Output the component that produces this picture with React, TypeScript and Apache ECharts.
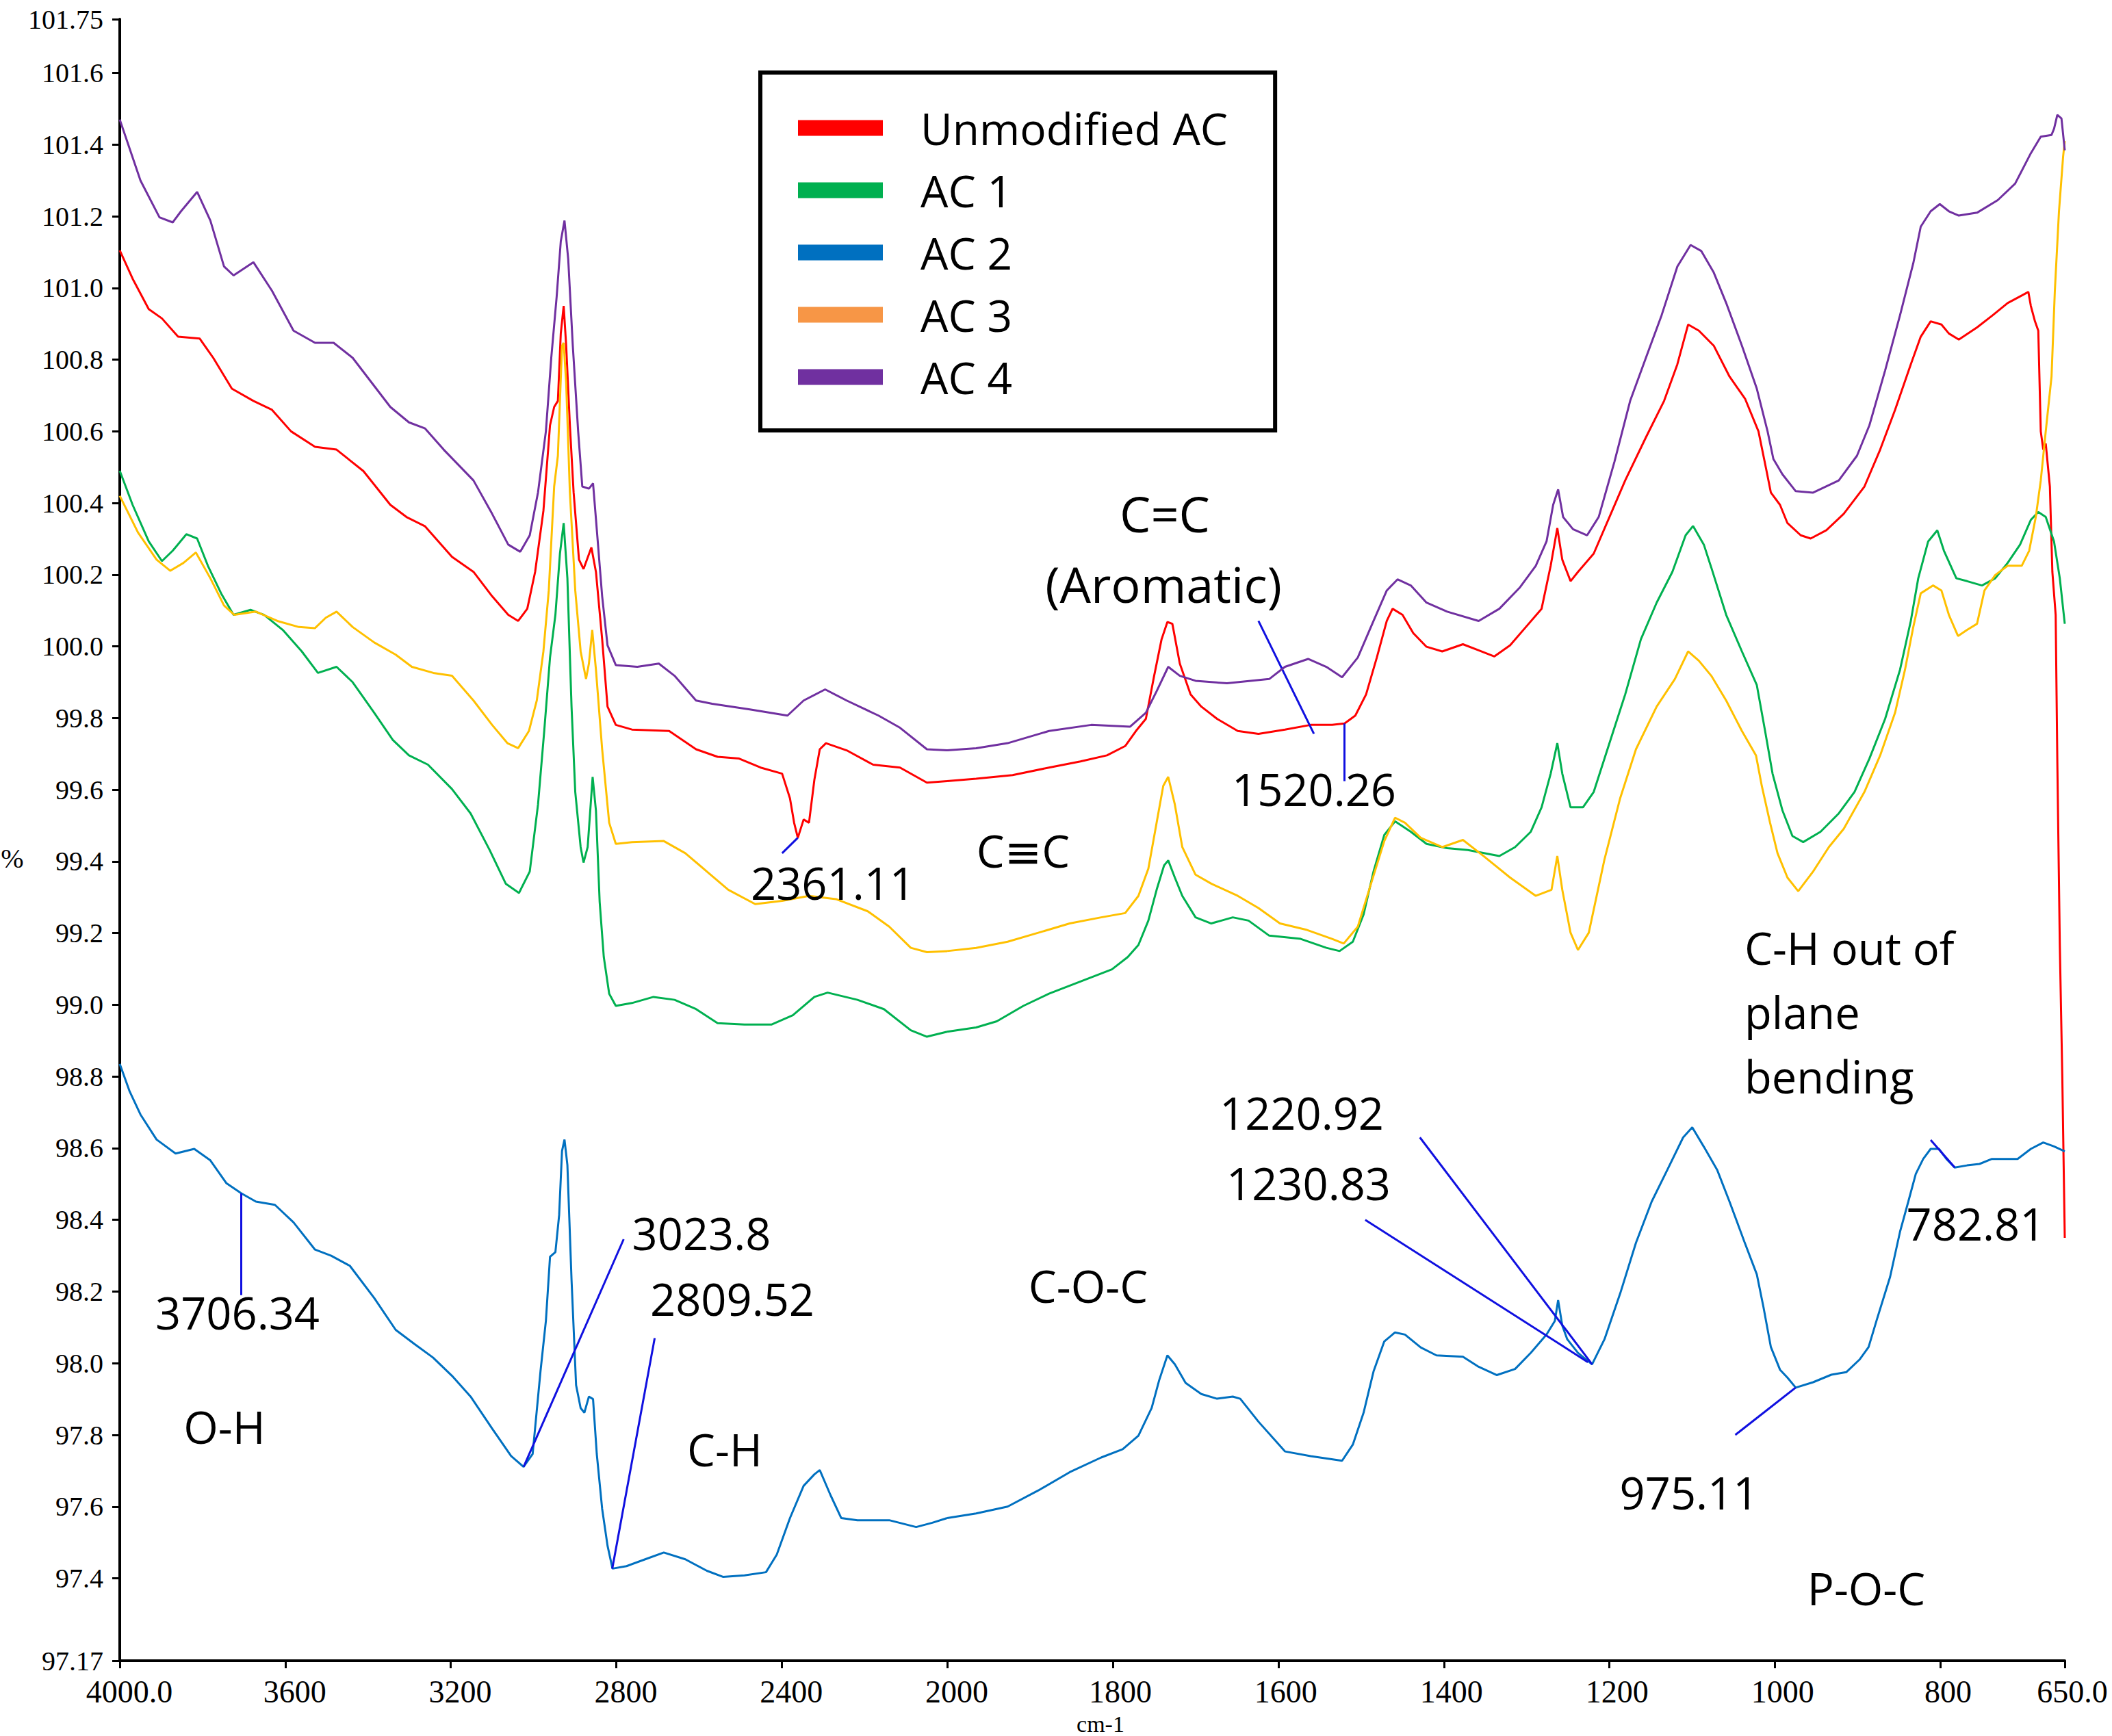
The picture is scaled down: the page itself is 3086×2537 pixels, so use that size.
import React, { useEffect, useRef } from 'react';
import * as echarts from 'echarts';

// ---------- DATA (wavenumber cm-1, transmittance %) ----------
const seriesNames = ['Unmodified AC', 'AC 1', 'AC 2', 'AC 3', 'AC 4'];

const unmodifiedAC: [number, number][] = [
  [4000, 101.105], [3969, 101.026], [3930, 100.941], [3898, 100.915], [3859, 100.864], [3807, 100.859],
  [3774, 100.805], [3729, 100.719], [3677, 100.685], [3632, 100.66], [3586, 100.6], [3528, 100.557],
  [3476, 100.549], [3411, 100.489], [3346, 100.395], [3307, 100.361], [3262, 100.335], [3197, 100.25],
  [3145, 100.208], [3100, 100.14], [3061, 100.088], [3037, 100.071], [3015, 100.105], [2996, 100.208],
  [2976, 100.378], [2960, 100.617], [2950, 100.668], [2941, 100.685], [2934, 100.873], [2927, 100.95],
  [2921, 100.84], [2912, 100.617], [2903, 100.43], [2890, 100.242], [2879, 100.216], [2860, 100.276],
  [2849, 100.208], [2834, 100.02], [2821, 99.832], [2801, 99.781], [2762, 99.768], [2672, 99.764],
  [2607, 99.713], [2555, 99.692], [2503, 99.687], [2451, 99.662], [2399, 99.645], [2380, 99.576],
  [2370, 99.508], [2361, 99.466], [2347, 99.517], [2334, 99.508], [2321, 99.628], [2308, 99.713],
  [2293, 99.73], [2243, 99.71], [2179, 99.67], [2114, 99.662], [2049, 99.62], [2000, 99.624],
  [1965, 99.631], [1921, 99.641], [1877, 99.662], [1839, 99.679], [1807, 99.696], [1785, 99.722],
  [1772, 99.764], [1760, 99.798], [1750, 99.918], [1741, 100.02], [1734, 100.068], [1728, 100.063],
  [1719, 99.952], [1706, 99.866], [1693, 99.832], [1674, 99.798], [1649, 99.764], [1624, 99.756],
  [1592, 99.768], [1561, 99.781], [1535, 99.781], [1520, 99.785], [1507, 99.807], [1494, 99.866],
  [1481, 99.969], [1469, 100.071], [1462, 100.105], [1450, 100.088], [1437, 100.037], [1421, 99.999],
  [1402, 99.986], [1377, 100.006], [1358, 99.989], [1339, 99.972], [1320, 100.003], [1301, 100.054],
  [1282, 100.105], [1271, 100.225], [1263, 100.33], [1257, 100.242], [1247, 100.182], [1238, 100.208],
  [1219, 100.259], [1200, 100.361], [1181, 100.463], [1156, 100.583], [1134, 100.685], [1118, 100.787],
  [1105, 100.898], [1092, 100.881], [1074, 100.839], [1055, 100.753], [1036, 100.69], [1020, 100.6],
  [1011, 100.498], [1005, 100.429], [994, 100.395], [985, 100.344], [969, 100.31], [957, 100.301],
  [938, 100.324], [917, 100.37], [892, 100.446], [873, 100.549], [855, 100.66], [836, 100.787],
  [824, 100.864], [812, 100.907], [799, 100.898], [790, 100.873], [778, 100.856], [756, 100.89],
  [737, 100.924], [719, 100.958], [702, 100.979], [694, 100.989], [691, 100.95], [686, 100.907],
  [682, 100.881], [679, 100.6], [676, 100.549], [673, 100.566], [668, 100.446], [665, 100.208],
  [661, 100.088], [659, 99.679], [656, 99.167], [653, 98.8], [650, 98.35],
];

const ac1: [number, number][] = [
  [4000, 100.49], [3969, 100.395], [3930, 100.293], [3898, 100.238], [3872, 100.267], [3839, 100.313],
  [3813, 100.301], [3787, 100.225], [3755, 100.148], [3725, 100.088], [3684, 100.102], [3651, 100.088],
  [3606, 100.046], [3560, 99.986], [3521, 99.926], [3476, 99.943], [3437, 99.9], [3385, 99.815],
  [3340, 99.739], [3301, 99.696], [3255, 99.67], [3197, 99.602], [3152, 99.534], [3106, 99.432],
  [3067, 99.338], [3035, 99.312], [3009, 99.372], [2989, 99.559], [2974, 99.764], [2960, 99.969],
  [2947, 100.088], [2936, 100.259], [2927, 100.344], [2918, 100.19], [2908, 99.832], [2899, 99.594],
  [2886, 99.44], [2879, 99.397], [2869, 99.44], [2857, 99.636], [2849, 99.542], [2840, 99.287],
  [2830, 99.133], [2817, 99.031], [2801, 98.997], [2762, 99.005], [2710, 99.022], [2659, 99.014],
  [2607, 98.988], [2555, 98.949], [2490, 98.945], [2425, 98.945], [2373, 98.971], [2321, 99.022],
  [2289, 99.034], [2217, 99.014], [2153, 98.988], [2088, 98.929], [2049, 98.911], [2000, 98.925],
  [1965, 98.937], [1940, 98.954], [1908, 98.997], [1877, 99.031], [1839, 99.065], [1801, 99.099],
  [1782, 99.133], [1769, 99.167], [1757, 99.235], [1747, 99.321], [1738, 99.389], [1733, 99.403],
  [1725, 99.355], [1716, 99.304], [1700, 99.244], [1681, 99.227], [1655, 99.244], [1636, 99.235],
  [1611, 99.193], [1573, 99.184], [1542, 99.159], [1526, 99.15], [1510, 99.176], [1497, 99.252],
  [1485, 99.372], [1472, 99.474], [1459, 99.512], [1440, 99.483], [1421, 99.449], [1396, 99.437],
  [1371, 99.432], [1333, 99.415], [1314, 99.44], [1295, 99.483], [1282, 99.551], [1271, 99.645],
  [1263, 99.73], [1257, 99.645], [1247, 99.551], [1232, 99.551], [1219, 99.594], [1200, 99.73],
  [1181, 99.866], [1162, 100.02], [1143, 100.122], [1124, 100.208], [1108, 100.31], [1099, 100.336],
  [1086, 100.284], [1077, 100.22], [1059, 100.088], [1040, 99.986], [1022, 99.892], [1012, 99.764],
  [1003, 99.645], [991, 99.542], [979, 99.471], [966, 99.454], [945, 99.483], [923, 99.534],
  [904, 99.594], [886, 99.687], [867, 99.798], [849, 99.935], [836, 100.071], [827, 100.19],
  [815, 100.293], [804, 100.324], [796, 100.267], [781, 100.19], [768, 100.182], [750, 100.17],
  [734, 100.19], [719, 100.233], [704, 100.284], [691, 100.353], [682, 100.375], [673, 100.361],
  [663, 100.293], [656, 100.19], [650, 100.063],
];

const ac2: [number, number][] = [
  [4000, 98.835], [3976, 98.758], [3950, 98.694], [3911, 98.624], [3865, 98.585], [3820, 98.598],
  [3781, 98.566], [3742, 98.502], [3706, 98.474], [3671, 98.451], [3625, 98.442], [3580, 98.393],
  [3528, 98.317], [3489, 98.3], [3444, 98.272], [3385, 98.182], [3333, 98.093], [3288, 98.054],
  [3243, 98.016], [3197, 97.965], [3152, 97.907], [3100, 97.818], [3054, 97.741], [3024, 97.711],
  [3002, 97.747], [2983, 97.978], [2970, 98.118], [2960, 98.297], [2947, 98.31], [2938, 98.413],
  [2931, 98.592], [2925, 98.624], [2918, 98.553], [2908, 98.233], [2897, 97.939], [2886, 97.875],
  [2877, 97.862], [2866, 97.907], [2856, 97.9], [2847, 97.747], [2834, 97.594], [2821, 97.491],
  [2809, 97.427], [2775, 97.434], [2730, 97.453], [2685, 97.472], [2633, 97.453], [2581, 97.421],
  [2542, 97.404], [2490, 97.408], [2438, 97.417], [2412, 97.466], [2380, 97.568], [2347, 97.658],
  [2321, 97.69], [2308, 97.702], [2282, 97.632], [2256, 97.568], [2217, 97.562], [2140, 97.562],
  [2075, 97.543], [2036, 97.555], [2000, 97.568], [1965, 97.581], [1927, 97.6], [1890, 97.645],
  [1852, 97.696], [1814, 97.737], [1788, 97.76], [1769, 97.798], [1753, 97.875], [1744, 97.952],
  [1734, 98.022], [1725, 97.997], [1712, 97.945], [1693, 97.914], [1674, 97.901], [1655, 97.907],
  [1646, 97.901], [1624, 97.837], [1592, 97.754], [1561, 97.741], [1523, 97.728], [1510, 97.773],
  [1497, 97.862], [1485, 97.977], [1472, 98.061], [1459, 98.086], [1447, 98.08], [1428, 98.044],
  [1409, 98.022], [1377, 98.018], [1358, 97.99], [1336, 97.967], [1314, 97.984], [1295, 98.029],
  [1276, 98.08], [1266, 98.118], [1262, 98.176], [1257, 98.105], [1251, 98.067], [1238, 98.029],
  [1221, 97.997], [1206, 98.067], [1187, 98.195], [1168, 98.336], [1149, 98.451], [1130, 98.54],
  [1111, 98.63], [1100, 98.658], [1086, 98.604], [1070, 98.54], [1055, 98.451], [1037, 98.339],
  [1022, 98.248], [1014, 98.157], [1005, 98.045], [994, 97.982], [985, 97.96], [975, 97.932],
  [954, 97.947], [932, 97.968], [914, 97.975], [898, 98.01], [887, 98.045], [877, 98.122],
  [861, 98.241], [849, 98.367], [839, 98.451], [830, 98.528], [821, 98.57], [812, 98.598],
  [802, 98.598], [793, 98.57], [783, 98.546], [768, 98.552], [753, 98.556], [738, 98.57],
  [707, 98.57], [691, 98.598], [676, 98.616], [663, 98.605], [650, 98.591],
];

const ac3: [number, number][] = [
  [4000, 100.42], [3956, 100.318], [3911, 100.242], [3878, 100.211], [3846, 100.233], [3816, 100.262],
  [3781, 100.19], [3748, 100.114], [3723, 100.088], [3671, 100.097], [3619, 100.071], [3567, 100.054],
  [3528, 100.051], [3502, 100.08], [3476, 100.097], [3437, 100.054], [3385, 100.011], [3333, 99.977],
  [3294, 99.943], [3242, 99.926], [3197, 99.918], [3145, 99.849], [3100, 99.781], [3063, 99.73],
  [3037, 99.716], [3011, 99.764], [2992, 99.849], [2976, 99.986], [2963, 100.156], [2950, 100.446],
  [2941, 100.532], [2931, 100.839], [2927, 100.847], [2921, 100.736], [2912, 100.43], [2899, 100.156],
  [2886, 99.986], [2873, 99.909], [2866, 99.952], [2858, 100.046], [2849, 99.935], [2834, 99.713],
  [2817, 99.508], [2801, 99.449], [2762, 99.454], [2685, 99.457], [2633, 99.423], [2581, 99.372],
  [2529, 99.321], [2464, 99.281], [2399, 99.29], [2334, 99.304], [2269, 99.295], [2192, 99.261],
  [2140, 99.218], [2088, 99.159], [2049, 99.147], [2000, 99.15], [1965, 99.159], [1927, 99.176],
  [1890, 99.201], [1852, 99.227], [1814, 99.244], [1785, 99.256], [1769, 99.304], [1757, 99.38],
  [1747, 99.508], [1739, 99.611], [1733, 99.636], [1725, 99.559], [1716, 99.44], [1700, 99.363],
  [1681, 99.338], [1649, 99.304], [1624, 99.27], [1598, 99.227], [1567, 99.21], [1535, 99.184],
  [1521, 99.171], [1504, 99.218], [1488, 99.338], [1472, 99.457], [1459, 99.522], [1447, 99.508],
  [1428, 99.466], [1402, 99.44], [1377, 99.46], [1352, 99.415], [1320, 99.355], [1289, 99.304],
  [1270, 99.321], [1263, 99.415], [1257, 99.321], [1247, 99.201], [1238, 99.153], [1225, 99.201],
  [1206, 99.406], [1187, 99.577], [1168, 99.713], [1143, 99.832], [1121, 99.909], [1105, 99.986],
  [1092, 99.96], [1077, 99.918], [1059, 99.849], [1040, 99.764], [1023, 99.696], [1016, 99.611],
  [1006, 99.508], [997, 99.423], [985, 99.355], [972, 99.317], [954, 99.372], [935, 99.44],
  [917, 99.491], [892, 99.594], [873, 99.696], [855, 99.815], [843, 99.935], [833, 100.054],
  [824, 100.148], [809, 100.17], [799, 100.156], [790, 100.088], [779, 100.029], [768, 100.046],
  [756, 100.063], [747, 100.156], [734, 100.199], [719, 100.225], [702, 100.225], [693, 100.267],
  [685, 100.361], [679, 100.463], [673, 100.6], [666, 100.753], [662, 100.992], [657, 101.214],
  [652, 101.367], [650, 101.41],
];

const ac4: [number, number][] = [
  [4000, 101.47], [3950, 101.3], [3904, 101.197], [3872, 101.183], [3852, 101.214], [3813, 101.268],
  [3781, 101.188], [3748, 101.06], [3725, 101.035], [3677, 101.072], [3632, 100.992], [3580, 100.881],
  [3528, 100.847], [3483, 100.847], [3437, 100.805], [3346, 100.668], [3301, 100.625], [3262, 100.608],
  [3217, 100.549], [3145, 100.463], [3100, 100.37], [3061, 100.284], [3032, 100.264], [3009, 100.31],
  [2989, 100.43], [2970, 100.6], [2957, 100.805], [2944, 100.975], [2934, 101.13], [2925, 101.188],
  [2916, 101.08], [2905, 100.84], [2892, 100.6], [2882, 100.446], [2866, 100.44], [2856, 100.455],
  [2847, 100.327], [2834, 100.14], [2821, 100.003], [2801, 99.948], [2749, 99.943], [2697, 99.952],
  [2659, 99.918], [2607, 99.849], [2568, 99.84], [2477, 99.824], [2386, 99.807], [2347, 99.849],
  [2295, 99.88], [2243, 99.849], [2166, 99.807], [2114, 99.773], [2049, 99.713], [2000, 99.71],
  [1965, 99.716], [1927, 99.73], [1877, 99.764], [1826, 99.781], [1779, 99.776], [1760, 99.815],
  [1747, 99.875], [1733, 99.943], [1719, 99.918], [1700, 99.904], [1662, 99.897], [1611, 99.909],
  [1592, 99.943], [1564, 99.965], [1542, 99.943], [1523, 99.914], [1504, 99.969], [1485, 100.071],
  [1469, 100.156], [1456, 100.187], [1440, 100.17], [1421, 100.122], [1396, 100.097], [1358, 100.071],
  [1333, 100.105], [1308, 100.165], [1289, 100.225], [1276, 100.293], [1268, 100.395], [1262, 100.438],
  [1256, 100.361], [1244, 100.327], [1227, 100.31], [1213, 100.361], [1194, 100.515], [1175, 100.685],
  [1156, 100.805], [1137, 100.924], [1118, 101.06], [1102, 101.12], [1089, 101.103], [1074, 101.043],
  [1059, 100.958], [1040, 100.839], [1022, 100.719], [1009, 100.6], [1002, 100.523], [991, 100.48],
  [975, 100.433], [954, 100.429], [923, 100.463], [901, 100.532], [886, 100.617], [867, 100.77],
  [849, 100.924], [833, 101.069], [824, 101.171], [812, 101.214], [801, 101.234], [790, 101.214],
  [778, 101.202], [756, 101.21], [731, 101.245], [710, 101.291], [691, 101.376], [679, 101.422],
  [666, 101.427], [663, 101.444], [659, 101.483], [654, 101.473], [650, 101.384],
];

// Tick values / labels
const yTickValues = [97.17, 97.4, 97.6, 97.8, 98.0, 98.2, 98.4, 98.6, 98.8, 99.0, 99.2, 99.4, 99.6, 99.8,
  100.0, 100.2, 100.4, 100.6, 100.8, 101.0, 101.2, 101.4, 101.6, 101.75];
const yTickLabels = ['97.17', '97.4', '97.6', '97.8', '98.0', '98.2', '98.4', '98.6', '98.8', '99.0', '99.2',
  '99.4', '99.6', '99.8', '100.0', '100.2', '100.4', '100.6', '100.8', '101.0', '101.2', '101.4', '101.6', '101.75'];
const xTickValuesHigh = [4000, 3600, 3200, 2800, 2400, 2000];
const xTickLabelsHigh = ['4000.0', '3600', '3200', '2800', '2400', '2000'];
const xTickValuesLow = [1800, 1600, 1400, 1200, 1000, 800, 650];
const xTickLabelsLow = ['1800', '1600', '1400', '1200', '1000', '800', '650.0'];

// Peak-marker leader lines, in data coordinates [x1, y1, x2, y2]
const leaderLinesHigh: number[][] = [
  [3706.34, 98.474, 3706.34, 98.19],
  [3023.8, 97.711, 2782, 98.346],
  [2809.52, 97.427, 2707, 98.07],
  [2399, 99.423, 2361.11, 99.466],
];
const leaderLinesLow: number[][] = [
  [1520.26, 99.785, 1520.26, 99.624],
  [1624, 100.071, 1557, 99.756],
  [1429, 98.63, 1220.92, 97.997],
  [1495, 98.4, 1226, 98.003],
  [1048, 97.8, 975.11, 97.932],
  [812, 98.623, 782.81, 98.546],
];

// Annotation texts
const annotations = [
  { text: 'C=C', x: 1702, y: 750, size: 72 },
  { text: '(Aromatic)', x: 1700, y: 853, size: 72 },
  { text: '1520.26', x: 1920, y: 1153, size: 65 },
  { text: '2361.11', x: 1217, y: 1290, size: 65 },
  { text: 'C\u2261C', x: 1495, y: 1243, size: 65 },
  { text: '3706.34', x: 347, y: 1918, size: 65 },
  { text: 'O-H', x: 328, y: 2085, size: 65 },
  { text: '3023.8', x: 1025, y: 1802, size: 65 },
  { text: '2809.52', x: 1070, y: 1898, size: 65 },
  { text: 'C-H', x: 1059, y: 2118, size: 65 },
  { text: 'C-O-C', x: 1590, y: 1879, size: 65 },
  { text: '1220.92', x: 1902, y: 1626, size: 65 },
  { text: '1230.83', x: 1912, y: 1729, size: 65 },
  { text: '975.11', x: 2468, y: 2181, size: 65 },
  { text: 'P-O-C', x: 2727, y: 2321, size: 65 },
  { text: '782.81', x: 2887, y: 1788, size: 65 },
];

const lineColors = ['#FF0000', '#00B050', '#0070C0', '#FFC000', '#7030A0'];
const legendColors = ['#FF0000', '#00B050', '#0070C0', '#F79646', '#7030A0'];

const BREAK_WN = 2000;
const SANS = '"Open Sans", "Noto Sans", "DejaVu Sans", sans-serif';
const SERIF = '"Liberation Serif", "Times New Roman", serif';

function labelFor(values: number[], labels: string[], v: number): string {
  let best = 0;
  for (let i = 1; i < values.length; i++) {
    if (Math.abs(values[i] - v) < Math.abs(values[best] - v)) best = i;
  }
  return labels[best];
}

function leaderData(lines: number[][]) {
  return lines.map((l) => [{ coord: [l[0], l[1]] }, { coord: [l[2], l[3]] }]);
}

export default function App() {
  const ref = useRef<HTMLDivElement>(null);

  useEffect(() => {
    if (!ref.current) return;
    const chart = echarts.init(ref.current, null, { renderer: 'svg' });
    const allData = [unmodifiedAC, ac1, ac2, ac3, ac4];

    const series: any[] = [];
    allData.forEach((d, i) => {
      const high = d.filter((p) => p[0] >= BREAK_WN);
      const low = d.filter((p) => p[0] <= BREAK_WN);
      const common = {
        type: 'line',
        name: seriesNames[i],
        showSymbol: false,
        symbol: 'none',
        smooth: false,
        lineStyle: { color: lineColors[i], width: 3 },
        itemStyle: { color: legendColors[i] },
        emphasis: { disabled: true },
        z: 2 + i,
      };
      const s1: any = { ...common, xAxisIndex: 0, yAxisIndex: 0, data: high };
      const s2: any = { ...common, xAxisIndex: 1, yAxisIndex: 1, data: low };
      if (i === 2) {
        const ml = {
          silent: true,
          symbol: ['none', 'none'],
          label: { show: false },
          lineStyle: { color: '#1010E0', width: 3, type: 'solid' },
          emphasis: { disabled: true },
        };
        s1.markLine = { ...ml, data: leaderData(leaderLinesHigh) };
        s2.markLine = { ...ml, data: leaderData(leaderLinesLow) };
      }
      series.push(s1, s2);
    });

    const axisLineStyle = { show: true, lineStyle: { color: '#000', width: 4 } };
    const tickStyle = { color: '#000', width: 3 };

    const option: any = {
      animation: false,
      backgroundColor: '#fff',
      grid: [
        { left: 175, top: 28, width: 1209, height: 2399, containLabel: false, outerBoundsMode: 'none' },
        { left: 1384, top: 28, width: 1633, height: 2399, containLabel: false, outerBoundsMode: 'none' },
      ],
      xAxis: [
        {
          type: 'value', gridIndex: 0, inverse: true, min: BREAK_WN, max: 4000,
          axisLine: axisLineStyle,
          axisTick: { show: true, customValues: xTickValuesHigh, length: 11, inside: false, lineStyle: tickStyle },
          axisLabel: {
            customValues: xTickValuesHigh, margin: 22, color: '#000', fontFamily: SERIF, fontSize: 46,
            lineHeight: 46, padding: [0, 0, 0, 28],
            formatter: (v: number) => labelFor(xTickValuesHigh, xTickLabelsHigh, v),
          },
          splitLine: { show: false },
        },
        {
          type: 'value', gridIndex: 1, inverse: true, min: 650, max: BREAK_WN,
          axisLine: axisLineStyle,
          axisTick: { show: true, customValues: xTickValuesLow, length: 11, inside: false, lineStyle: tickStyle },
          axisLabel: {
            customValues: xTickValuesLow, margin: 22, color: '#000', fontFamily: SERIF, fontSize: 46,
            lineHeight: 46, padding: [0, 0, 0, 22],
            formatter: (v: number) => labelFor(xTickValuesLow, xTickLabelsLow, v),
          },
          splitLine: { show: false },
        },
      ],
      yAxis: [
        {
          type: 'value', gridIndex: 0, min: 97.17, max: 101.75,
          axisLine: axisLineStyle,
          axisTick: { show: true, customValues: yTickValues, length: 11, inside: false, lineStyle: tickStyle },
          axisLabel: {
            customValues: yTickValues, margin: 24, color: '#000', fontFamily: SERIF, fontSize: 40,
            formatter: (v: number) => labelFor(yTickValues, yTickLabels, v),
          },
          splitLine: { show: false },
        },
        { type: 'value', gridIndex: 1, min: 97.17, max: 101.75, show: false, splitLine: { show: false } },
      ],
      legend: {
        show: true,
        left: 1111,
        top: 106,
        orient: 'vertical',
        icon: 'rect',
        itemWidth: 124,
        itemHeight: 23,
        itemGap: 21,
        padding: [46, 69, 43, 55],
        borderColor: '#000',
        borderWidth: 6,
        backgroundColor: '#fff',
        selectedMode: false,
        textStyle: { fontFamily: SANS, fontSize: 64, color: '#000', lineHeight: 70, padding: [0, 0, 0, 50] },
        data: seriesNames.map((n, i) => ({ name: n, itemStyle: { color: legendColors[i] } })),
      },
      graphic: [
        ...annotations.map((a) => ({
          type: 'text', x: a.x, y: a.y, silent: true, z: 100,
          style: { text: a.text, fill: '#000', fontFamily: SANS, fontSize: a.size, align: 'center', verticalAlign: 'middle' },
        })),
        {
          type: 'text', x: 2549, y: 1338, silent: true, z: 100,
          style: {
            text: 'C-H out of\nplane\nbending', fill: '#000', fontFamily: SANS, fontSize: 65,
            lineHeight: 94, align: 'left', verticalAlign: 'top',
          },
        },
        {
          type: 'text', x: 18, y: 1254, silent: true, z: 100,
          style: { text: '%', fill: '#000', fontFamily: SERIF, fontSize: 40, align: 'center', verticalAlign: 'middle' },
        },
        {
          type: 'text', x: 1608, y: 2519, silent: true, z: 100,
          style: { text: 'cm-1', fill: '#000', fontFamily: SERIF, fontSize: 34, lineHeight: 34, align: 'center', verticalAlign: 'middle' },
        },
      ],
      series,
    };

    chart.setOption(option);
    return () => chart.dispose();
  }, []);

  return (
    <div
      ref={ref}
      style={{ position: 'absolute', left: 0, top: 0, width: 3086, height: 2537, background: '#fff' }}
    />
  );
}
